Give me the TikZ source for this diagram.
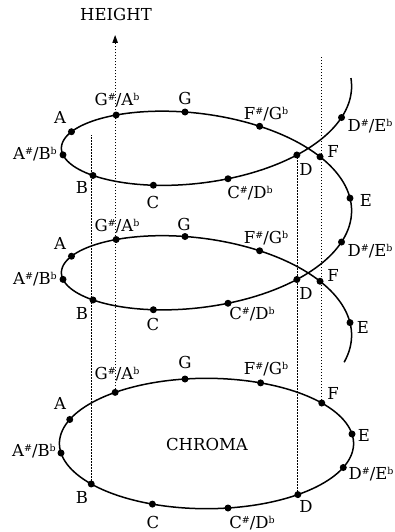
\documentclass[tikz,border=0pt]{standalone}
\usepackage{fontspec}
\setmainfont{DejaVu Serif}
\usetikzlibrary{arrows.meta}
\newcommand\supx[1]{\raisebox{5pt}{\fontsize{9.5}{9.5}\selectfont #1}}
\newcommand\sh[2]{#1\supx{\#}/#2\supx{b}}
\begin{document}
\begin{tikzpicture}[x=1pt,y=-1pt,
  declare function={
    ex(\t)=206.5+145.5*cos(\t)-21.5*sin(\t);
    ey(\t)=443.5-9.5*cos(\t)-64.5*sin(\t);
    hx(\t)=206.5+143.5*cos(\t)-21.5*sin(\t);
    hy(\t)=ey(\t)-350+10.375*(330-\t)/30;
  },
  curve/.style={line width=1.5pt},
  dot/.style={circle,fill=black,inner sep=0pt,minimum size=7pt},
  lbl/.style={inner sep=0pt,anchor=base,font=\fontsize{16.5}{19}\selectfont},
  guide/.style={line width=0.8pt,dash pattern=on 1.5pt off 1.5pt},
]
\useasboundingbox (0,0) rectangle (394,532);
% curves
\draw[curve] plot[domain=0:360,samples=145,smooth] ({ex(\x)},{ey(\x)}) -- cycle;
\draw[curve] plot[domain=357:-387,samples=300,smooth] ({hx(\x)},{hy(\x)});
% dots
\foreach \n/\a in {E/0,F/30,Fs/60,G/90,Gs/120,A/150,As/180,B/210,C/240,Cs/270,D/300,Ds/330}{
  \node[dot] (b-\n) at ({ex(\a)},{ey(\a)}) {};
  \node[dot] (t-\n) at ({hx(\a)},{hy(\a)}) {};
  \node[dot] (m-\n) at ({hx(\a-360)},{hy(\a-360)}) {};
}
% guides
\coordinate (hgt) at (116,35);
\coordinate (topB) at (93,135);
\coordinate (topF) at (321,56);
\draw[guide,-{Triangle[length=8pt,width=5.5pt]}] (b-Gs.center) -- (b-Gs |- hgt);
\draw[guide] (b-B.center) -- (b-B |- topB);
\draw[guide] (b-D.center) -- (b-D |- t-D);
\draw[guide] (b-F.center) -- (b-F |- topF);
% labels top loop
\node[lbl] (lt-A) at (60,123) {A};
\node[lbl] (lt-Gs) at (117,106) {\sh{G}{A}};
\node[lbl] (lt-G) at (185,104) {G};
\node[lbl] (lt-As) at (35,159) {\sh{A}{B}};
\node[lbl] (lt-B) at (82,193) {B};
\node[lbl] (lt-C) at (153,208) {C};
\node[lbl] (lt-Fs) at (266,119) {\sh{F}{G}};
\node[lbl] (lt-Ds) at (370,131) {\sh{D}{E}};
\node[lbl] (lt-F) at (333,157) {F};
\node[lbl] (lt-D) at (306,175) {D};
\node[lbl] (lt-Cs) at (250,198) {\sh{C}{D}};
\node[lbl] (lt-E) at (366,206) {E};
% labels middle loop
\node[lbl] (lm-A) at (60,249) {A};
\node[lbl] (lm-Gs) at (117,231) {\sh{G}{A}};
\node[lbl] (lm-G) at (184,230) {G};
\node[lbl] (lm-As) at (35,284) {\sh{A}{B}};
\node[lbl] (lm-B) at (82,319) {B};
\node[lbl] (lm-C) at (153,330) {C};
\node[lbl] (lm-Fs) at (266,243) {\sh{F}{G}};
\node[lbl] (lm-Ds) at (370,256) {\sh{D}{E}};
\node[lbl] (lm-F) at (333,281) {F};
\node[lbl] (lm-D) at (306,299) {D};
\node[lbl] (lm-Cs) at (252,319) {\sh{C}{D}};
\node[lbl] (lm-E) at (363,333) {E};
% labels bottom
\node[lbl] (lb-A) at (60,409) {A};
\node[lbl] (lb-Gs) at (117,379) {\sh{G}{A}};
\node[lbl] (lb-G) at (185,368) {G};
\node[lbl] (lb-As) at (34,456) {\sh{A}{B}};
\node[lbl] (lb-B) at (82,503) {B};
\node[lbl] (lb-C) at (153,528) {C};
\node[lbl] (lb-Cs) at (252,528) {\sh{C}{D}};
\node[lbl] (lb-D) at (306,512) {D};
\node[lbl] (lb-Ds) at (371,479) {\sh{D}{E}};
\node[lbl] (lb-E) at (364,441) {E};
\node[lbl] (lb-F) at (333,399) {F};
\node[lbl] (lb-Fs) at (266,374) {\sh{F}{G}};
\node[lbl] (chroma) at (207,450) {CHROMA};
\node[lbl] (height) at (116,21) {HEIGHT};
\end{tikzpicture}
\end{document}
